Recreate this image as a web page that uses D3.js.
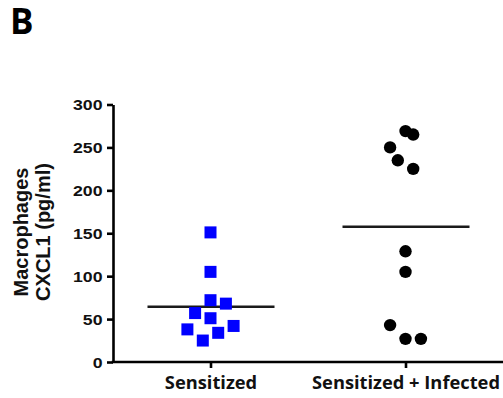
<!DOCTYPE html>
<html><head><meta charset="utf-8">
<script src="https://cdn.jsdelivr.net/npm/d3@7"></script>
<style>html,body{margin:0;padding:0;background:#fff;}svg{display:block;}</style>
</head><body>
<svg id="c" width="503" height="398"></svg>
<script>
const categories = ["Sensitized", "Sensitized + Infected"];
const sensitizedValues = [151, 105, 72, 68, 57, 51, 42, 38, 34, 25];
const sensitizedSlots  = [0, 0, 0, 2, -2, 0, 3, -3, 1, -1];
const infectedValues = [269, 265, 250, 235, 225, 129, 105, 43, 27, 27];
const infectedSlots  = [0, 1, -2, -1, 1, 0, 0, -2, 0, 2];
const yTicks = [0, 50, 100, 150, 200, 250, 300];
const yTitle = ["Macrophages", "CXCL1 (pg/ml)"];
const panelLabel = "B";

const svg = d3.select("#c");
const x = d3.scalePoint().domain(categories).range([113, 503]).padding(0.5);
const y = d3.scaleLinear().domain([0, 300]).range([362, 104.5]);
const jitter = d3.scaleLinear().domain([-1, 1]).range([-7.7, 7.7]);

// panel label
svg.append("text").attr("x", 10).attr("y", 34).text(panelLabel)
  .attr("font-family", "Open Sans").attr("font-weight", 700).attr("font-size", 35).attr("fill", "#000");

// y axis
const ya = svg.append("g").attr("transform", "translate(113,0)")
  .call(d3.axisLeft(y).tickValues(yTicks).tickSize(6).tickPadding(4.5).tickSizeOuter(0));
ya.select(".domain").attr("stroke", "#000").attr("stroke-width", 2.6);
ya.selectAll(".tick line").attr("stroke", "#000").attr("stroke-width", 2.6);
ya.selectAll(".tick text").attr("font-family", "Liberation Sans").attr("font-weight", 700)
  .attr("font-size", 14.5).attr("fill", "#111").attr("dy", "0.36em")
  .each(function(){ const l = this.getComputedTextLength(); d3.select(this).attr("textLength", l*1.22).attr("lengthAdjust","spacingAndGlyphs"); });

// x axis
const xa = svg.append("g").attr("transform", "translate(0,362)")
  .call(d3.axisBottom(x).tickSize(6).tickPadding(8).tickSizeOuter(0));
xa.select(".domain").attr("stroke", "#000").attr("stroke-width", 2.6).attr("d", "M111.7,0H503");
xa.selectAll(".tick line").attr("stroke", "#000").attr("stroke-width", 2.6);
xa.selectAll(".tick text").attr("font-family", "Open Sans").attr("font-weight", 700)
  .attr("font-size", 18.3).attr("fill", "#111").attr("dy", "0.71em");

// y title
const yt = svg.append("g").attr("transform", "translate(0,232) rotate(-90)");
yTitle.forEach((t, i) => {
  yt.append("text").attr("x", 0).attr("y", 27.5 + i * 22).attr("text-anchor", "middle")
    .attr("font-family", "Liberation Sans").attr("font-weight", 700).attr("font-size", 20)
    .attr("fill", "#111").text(t);
});

// mean lines
const groups = [
  {cat: categories[0], values: sensitizedValues, slots: sensitizedSlots},
  {cat: categories[1], values: infectedValues, slots: infectedSlots}
];
groups.forEach(g => {
  const m = d3.mean(g.values);
  svg.append("line").attr("x1", x(g.cat) - 63).attr("x2", x(g.cat) + 64)
    .attr("y1", y(m)).attr("y2", y(m)).attr("stroke", "#1a1a1a").attr("stroke-width", 2.6);
});

// squares
const sq = 12;
svg.append("g").selectAll("rect").data(sensitizedValues).join("rect")
  .attr("x", (d, i) => x(categories[0]) + jitter(sensitizedSlots[i]) - sq/2)
  .attr("y", d => y(d) - sq/2).attr("width", sq).attr("height", sq).attr("fill", "#0000ff");

// circles
svg.append("g").selectAll("circle").data(infectedValues).join("circle")
  .attr("cx", (d, i) => x(categories[1]) + jitter(infectedSlots[i]))
  .attr("cy", d => y(d)).attr("r", 6.2).attr("fill", "#000");
</script>
</body></html>
